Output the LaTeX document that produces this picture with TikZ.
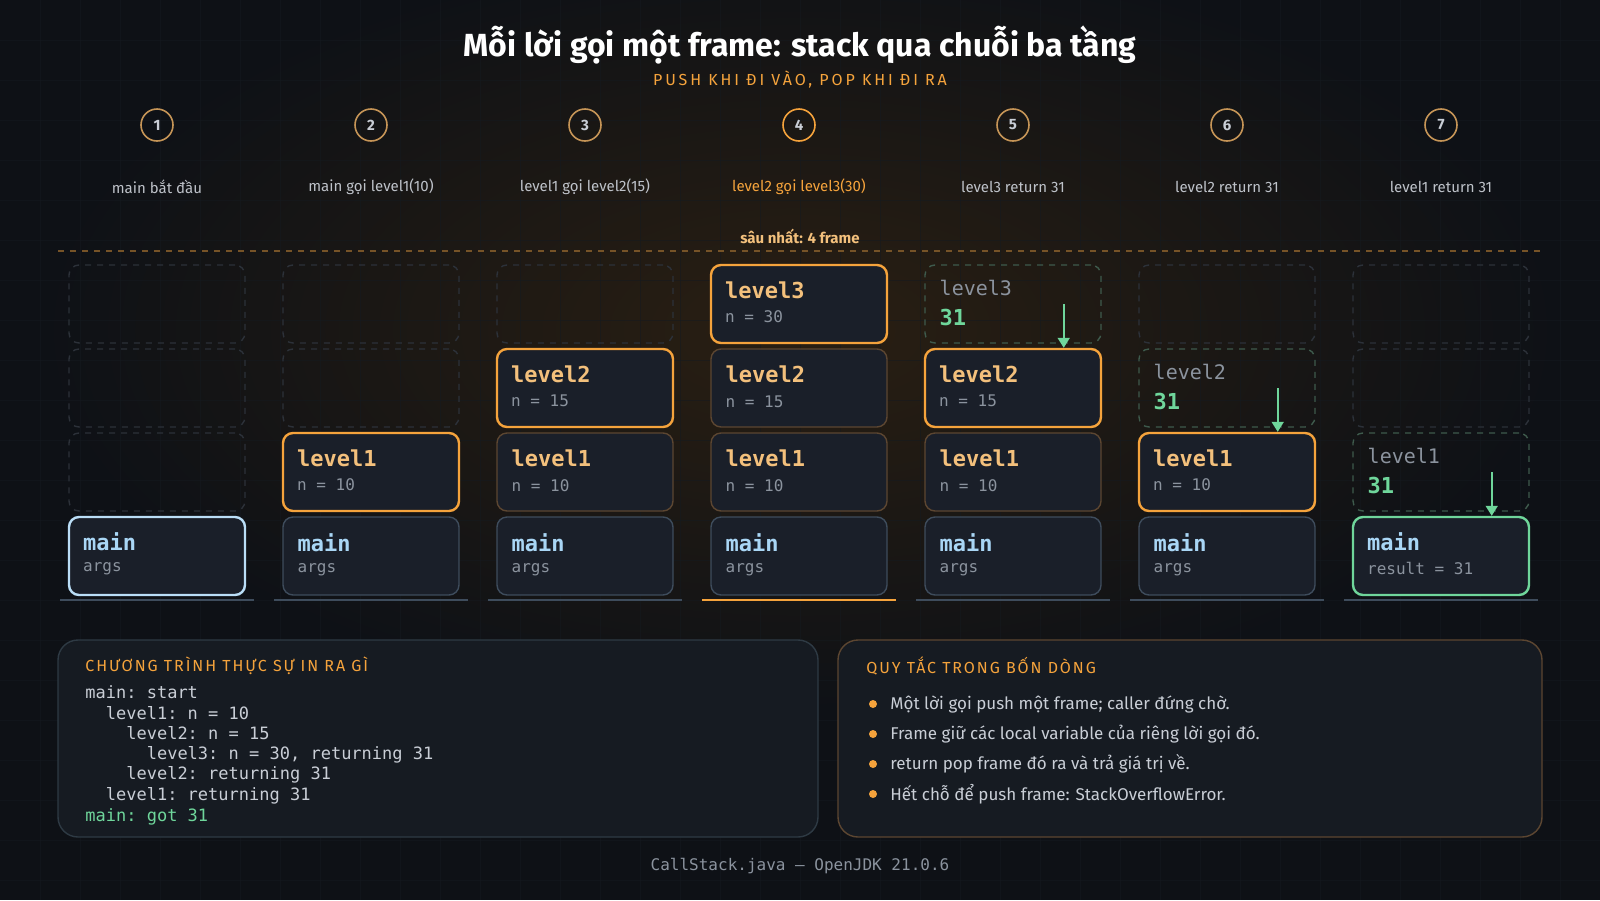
\documentclass[tikz,border=0pt]{standalone}
\usepackage{fontspec}
\setmainfont{Fira Sans}
\setsansfont{Fira Sans}
\setmonofont{DejaVu Sans Mono}
\usetikzlibrary{calc,positioning,arrows.meta}
\definecolor{bg}{HTML}{0E1116}
\definecolor{glow}{HTML}{2A1F12}
\definecolor{gridc}{HTML}{151A20}
\definecolor{panel}{HTML}{161B22}
\definecolor{panelb}{HTML}{2E3A44}
\definecolor{boxf}{HTML}{1A1F29}
\definecolor{orng}{HTML}{F5A33C}
\definecolor{lvl}{HTML}{F3C07C}
\definecolor{mainc}{HTML}{A9D6F5}
\definecolor{grayt}{HTML}{8B939E}
\definecolor{lightt}{HTML}{C9CED6}
\definecolor{grn}{HTML}{6FD69B}
\definecolor{slotb}{HTML}{2C3139}
\definecolor{lvlb}{HTML}{5C4631}
\definecolor{mainb}{HTML}{3E4C5C}
\definecolor{ghostb}{HTML}{3E5A4C}
\tikzset{
  box/.style={draw, rounded corners=5pt, fill=boxf, line width=0.7pt,
    minimum width=88pt, minimum height=39pt, inner sep=0pt},
  slot/.style={box, draw=slotb, fill=none, dashed},
  lvlbox/.style={box, draw=lvlb},
  mainbox/.style={box, draw=mainb},
  act/.style={box, draw=orng, line width=1.2pt},
  actmain/.style={box, draw=mainc!80, line width=1.2pt},
  donemain/.style={box, draw=grn, line width=1.2pt},
  ghost/.style={box, draw=ghostb, fill=none, dashed},
  fname/.style={font=\ttfamily\bfseries\fontsize{11}{12}\selectfont, anchor=west, inner sep=0pt},
  fsub/.style={font=\ttfamily\fontsize{8}{9}\selectfont, text=grayt, anchor=west, inner sep=0pt},
  stepc/.style={draw=orng!60!gray, circle, line width=0.8pt, minimum size=16pt, inner sep=0pt,
    font=\bfseries\fontsize{7.5}{8}\selectfont, text=lightt},
  capt/.style={font=\fontsize{7.5}{9}\selectfont, text=lightt!85!gray},
  ret/.style={draw=grn, line width=0.9pt, -{Triangle[length=5pt,width=6pt]}},
  codel/.style={font=\ttfamily\fontsize{8.5}{10}\selectfont, text=lightt, anchor=west, inner sep=0pt},
  bul/.style={font=\fontsize{8.5}{10}\selectfont, text=lightt, anchor=west, inner sep=0pt},
  head/.style={font=\fontsize{8}{10}\selectfont\addfontfeatures{LetterSpace=12}, text=orng, anchor=west, inner sep=0pt},
}
% frame: col, level, name, sub, box style, name colour
\newcommand\frm[6]{%
  \node[#5] (f-#1-#2) at ({157+214*(#1-1)},{556-84*#2}) {};
  \node[fname, text=#6] (n-#1-#2) at ($(f-#1-#2.north west)+(15,26)$) {#3};
  \node[fsub] (s-#1-#2) at ($(f-#1-#2.north west)+(15,53)$) {#4};
}
\newcommand\emptyslot[2]{%
  \node[slot] (f-#1-#2) at ({157+214*(#1-1)},{556-84*#2}) {};
}
\newcommand\ghostfrm[3]{%
  \node[ghost] (f-#1-#2) at ({157+214*(#1-1)},{556-84*#2}) {};
  \node[fname, font=\ttfamily\fontsize{10}{12}\selectfont, text=grayt] (n-#1-#2) at ($(f-#1-#2.north west)+(15,24)$) {#3};
  \node[fname, text=grn] (s-#1-#2) at ($(f-#1-#2.north west)+(15,53)$) {31};
  \coordinate (a-#1) at ($(f-#1-#2.north east)+(-38,40)$);
}
\begin{document}
\begin{tikzpicture}[x=0.5pt,y=-0.5pt]
\useasboundingbox (0,0) rectangle (1600,900);
\fill[bg] (0,0) rectangle (1600,900);
\shade[inner color=glow, outer color=bg] (800,330) ellipse (760 and 380);
\foreach \gx in {40,80,...,1560} \draw[gridc, line width=0.3pt, opacity=0.5] (\gx,0) -- (\gx,900);
\foreach \gy in {40,80,...,880} \draw[gridc, line width=0.3pt, opacity=0.5] (0,\gy) -- (1600,\gy);

% title
\node[font=\bfseries\fontsize{16}{18}\selectfont, text=white] (title) at (800,45) {Mỗi lời gọi một frame: stack qua chuỗi ba tầng};
\node[font=\fontsize{8}{10}\selectfont\addfontfeatures{LetterSpace=18}, text=orng] (subtitle) at (800,80) {PUSH KHI ĐI VÀO, POP KHI ĐI RA};

% steps
\foreach \i/\t in {1/main bắt đầu,2/main gọi level1(10),3/level1 gọi level2(15),5/level3 return 31,6/level2 return 31,7/level1 return 31} {
  \node[stepc] (c-\i) at ({157+214*(\i-1)},125) {\i};
  \node[capt] (t-\i) at ({157+214*(\i-1)},187) {\t};
}
\node[stepc, draw=orng] (c-4) at (799,125) {4};
\node[capt, text=orng] (t-4) at (799,187) {level2 gọi level3(30)};

\node[font=\bfseries\fontsize{7.5}{9}\selectfont, text=lvl] (deep) at (800,236) {sâu nhất: 4 frame};
\draw[orng!45!bg, dashed, line width=0.7pt] (58,251) -- (1542,251);

% column 1
\emptyslot{1}{3} \emptyslot{1}{2} \emptyslot{1}{1}
\frm{1}{0}{main}{args}{actmain}{mainc}
% column 2
\emptyslot{2}{3} \emptyslot{2}{2}
\frm{2}{1}{level1}{n = 10}{act}{lvl}
\frm{2}{0}{main}{args}{mainbox}{mainc}
% column 3
\emptyslot{3}{3}
\frm{3}{2}{level2}{n = 15}{act}{lvl}
\frm{3}{1}{level1}{n = 10}{lvlbox}{lvl}
\frm{3}{0}{main}{args}{mainbox}{mainc}
% column 4
\frm{4}{3}{level3}{n = 30}{act}{lvl}
\frm{4}{2}{level2}{n = 15}{lvlbox}{lvl}
\frm{4}{1}{level1}{n = 10}{lvlbox}{lvl}
\frm{4}{0}{main}{args}{mainbox}{mainc}
% column 5
\ghostfrm{5}{3}{level3}
\frm{5}{2}{level2}{n = 15}{act}{lvl}
\frm{5}{1}{level1}{n = 10}{lvlbox}{lvl}
\frm{5}{0}{main}{args}{mainbox}{mainc}
% column 6
\emptyslot{6}{3}
\ghostfrm{6}{2}{level2}
\frm{6}{1}{level1}{n = 10}{act}{lvl}
\frm{6}{0}{main}{args}{mainbox}{mainc}
% column 7
\emptyslot{7}{3} \emptyslot{7}{2}
\ghostfrm{7}{1}{level1}
\frm{7}{0}{main}{result = 31}{donemain}{mainc}

% return arrows
\draw[ret] (a-5) -- (a-5 |- f-5-2.north);
\draw[ret] (a-6) -- (a-6 |- f-6-1.north);
\draw[ret] (a-7) -- (a-7 |- f-7-0.north);

% stack floors
\foreach \i in {1,...,7}
  \draw[mainb, line width=1pt] ($(f-\i-0.south west)+(-8,4)$) -- ($(f-\i-0.south east)+(8,4)$);
\draw[orng, line width=1.2pt] ($(f-4-0.south west)+(-8,4)$) -- ($(f-4-0.south east)+(8,4)$);

% output panel
\node[draw=panelb, fill=panel, rounded corners=10pt, line width=0.7pt, minimum width=380pt, minimum height=98.5pt] (out) at (438,738.5) {};
\node[head] (outh) at (85,666) {CHƯƠNG TRÌNH THỰC SỰ IN RA GÌ};
\foreach \l/\t in {0/main: start,1/{\ \ level1: n = 10},2/{\ \ \ \ level2: n = 15},3/{\ \ \ \ \ \ level3: n = 30, returning 31},4/{\ \ \ \ level2: returning 31},5/{\ \ level1: returning 31}}
  \node[codel] (o-\l) at (85,{692+20.8*\l}) {\t};
\node[codel, text=grn] (o-6) at (85,817) {main: got 31};

% rules panel
\node[draw=lvlb, fill=panel, rounded corners=10pt, line width=0.7pt, minimum width=352pt, minimum height=98.5pt] (rules) at (1190,738.5) {};
\node[head] (rulesh) at (866,666) {QUY TẮC TRONG BỐN DÒNG};
\foreach \k/\t in {0/Một lời gọi push một frame; caller đứng chờ.,1/Frame giữ các local variable của riêng lời gọi đó.,2/return pop frame đó ra và trả giá trị về.,3/Hết chỗ để push frame: StackOverflowError.} {
  \fill[orng] (873,{704+30*\k}) circle (4);
  \node[bul] (r-\k) at (890,{704+30*\k}) {\t};
}

\node[font=\ttfamily\fontsize{8}{10}\selectfont, text=grayt] (foot) at (800,866) {CallStack.java — OpenJDK 21.0.6};
\end{tikzpicture}
\end{document}
